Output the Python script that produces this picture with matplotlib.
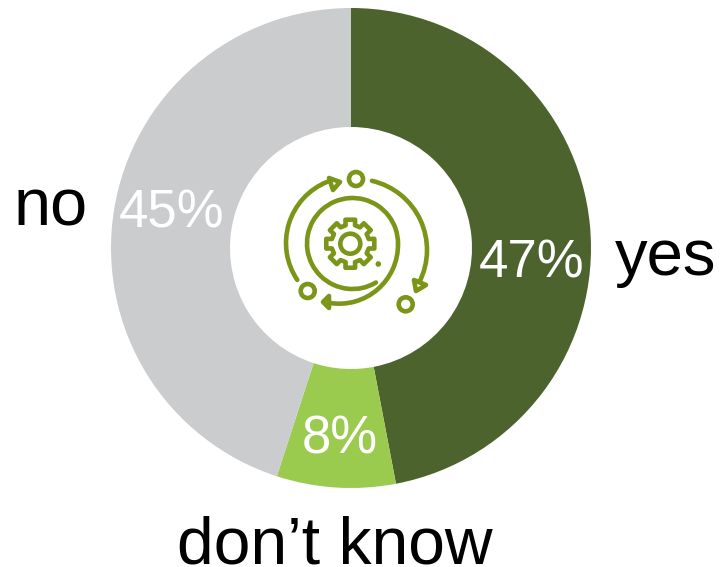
import numpy as np
import matplotlib.pyplot as plt
from matplotlib.patches import Arc, Circle, Polygon

plt.rcParams['font.family'] = ['Liberation Sans', 'DejaVu Sans']

shares = [47, 8, 45]
share_labels = ['47%', '8%', '45%']
answers = ['yes', 'don\u2019t know', 'no']
colors = ['#4C632E', '#9BCB4E', '#CBCCCE']

ICON = '#7A9518'
LW = 3.3
H = 567


def yy(y):
    # pixel rows run downwards, the axes run upwards
    return H - y


def ring(ax, cx, cy, r):
    ax.add_patch(Circle((cx, yy(cy)), r, fill=False, ec=ICON, lw=LW))


def arc(ax, cx, cy, r, a0, a1):
    ax.add_patch(Arc((cx, yy(cy)), 2 * r, 2 * r, theta1=a0, theta2=a1,
                     ec=ICON, lw=LW, capstyle='round'))


def head(ax, pts):
    ax.add_patch(Polygon([(x, yy(y)) for x, y in pts], closed=True, fill=False,
                         ec=ICON, lw=LW, joinstyle='round'))


def gear(ax, cx, cy, r_out, r_in, teeth=8):
    pts = []
    step = 2 * np.pi / teeth
    for i in range(teeth):
        a = i * step
        for da, r in [(-0.25, r_in), (-0.20, r_out), (0.20, r_out), (0.25, r_in)]:
            pts.append((cx + r * np.sin(a + da), yy(cy) + r * np.cos(a + da)))
    ax.add_patch(Polygon(pts, closed=True, fill=False, ec=ICON, lw=LW, joinstyle='round'))


fig = plt.figure(figsize=(7.2, 5.67), dpi=100)
ax = fig.add_axes([0, 0, 1, 1])

ax.pie(shares, colors=colors, startangle=90, counterclock=False,
       center=(351, yy(248)), radius=240,
       wedgeprops=dict(width=119, linewidth=0))
ax.set_xlim(0, 720)
ax.set_ylim(0, H)
ax.set_aspect('equal')
ax.axis('off')

# percentages on the ring
ax.text(532, yy(277), share_labels[0], color='white', fontsize=38, ha='center', va='baseline')
ax.text(340, yy(453), share_labels[1], color='white', fontsize=38, ha='center', va='baseline')
ax.text(172, yy(228), share_labels[2], color='white', fontsize=38, ha='center', va='baseline')

# answer names around the ring
ax.text(666, yy(275), answers[0], color='black', fontsize=47, ha='center', va='baseline')
ax.text(335, yy(563), answers[1], color='black', fontsize=47.5, ha='center', va='baseline')
ax.text(51, yy(226), answers[2], color='black', fontsize=48, ha='center', va='baseline')

# gear and cycle icon in the hole
gear(ax, 350.3, 243.7, 24.5, 19)
ring(ax, 350.3, 243.7, 10)
ax.add_patch(Circle((378.3, yy(264)), 2.8, color=ICON, lw=0))

# inner ring spirals out into the lower arrow
arc(ax, 352.5, 243.5, 45.5, 0, 301)
arc(ax, 339.1, 244.8, 58.9, -99, 1)
head(ax, [(329, 296), (323, 302), (329, 308)])

# outer arcs
arc(ax, 352, 243, 66, 112, 214)
arc(ax, 356, 250, 71, -27, 77)
head(ax, [(329, 178), (340, 182), (333, 190)])
head(ax, [(414, 280), (426, 285), (416, 291)])

ring(ax, 356, 179, 7)
ring(ax, 307.7, 291, 7)
ring(ax, 405.7, 304.3, 7)

fig.savefig('out.png', dpi=100)
